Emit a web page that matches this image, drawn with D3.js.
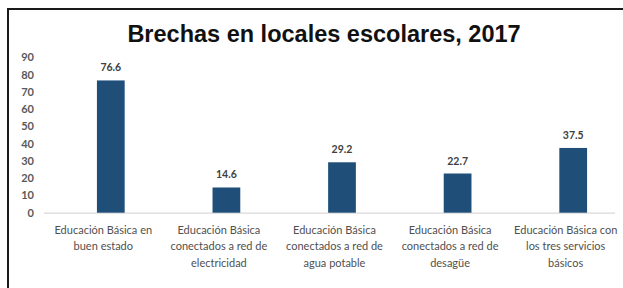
<!DOCTYPE html>
<html>
<head>
<meta charset="utf-8">
<script src="https://cdn.jsdelivr.net/npm/d3@7"></script>
<style>
	body { margin: 0; background: white; }
	svg { display: block; }
</style>
</head>
<body>
<svg id="chart" width="623" height="288"></svg>
<script>
const categories = [
	['Educación Básica en', 'buen estado'],
	['Educación Básica', 'conectados a red de', 'electricidad'],
	['Educación Básica', 'conectados a red de', 'agua potable'],
	['Educación Básica', 'conectados a red de', 'desagüe'],
	['Educación Básica con', 'los tres servicios', 'básicos'],
];
const values = [76.6, 14.6, 29.2, 22.7, 37.5];
const yTicks = [0, 10, 20, 30, 40, 50, 60, 70, 80, 90];
const title = 'Brechas en locales escolares, 2017';

const svg = d3.select('#chart');
const baseY = 212.7;
const topY = 57.3;

// frame around the chart (runs off the right and bottom edges)
svg.append('rect')
	.attr('x', 8)
	.attr('y', 9)
	.attr('width', 640)
	.attr('height', 300)
	.attr('fill', 'white')
	.attr('stroke', '#1a1a1a')
	.attr('stroke-width', 2);

svg.append('text')
	.attr('x', 324)
	.attr('y', 42)
	.attr('text-anchor', 'middle')
	.attr('font-family', 'Liberation Sans, Arial, sans-serif')
	.attr('font-weight', 'bold')
	.attr('font-size', 23.5)
	.attr('fill', '#111')
	.text(title);

const x = d3.scaleBand()
	.domain(d3.range(values.length))
	.range([53, 631])
	.paddingInner(0.76)
	.paddingOuter(0.38);

const y = d3.scaleLinear()
	.domain([0, 90])
	.range([baseY, topY]);

// y tick labels only, no axis line
const yAxis = svg.append('g')
	.attr('transform', 'translate(34,0)')
	.call(d3.axisLeft(y).tickValues(yTicks).tickSize(0).tickPadding(0));
yAxis.select('.domain').remove();
yAxis.selectAll('text')
	.attr('font-family', 'Lato, sans-serif')
	.attr('font-size', 11)
	.attr('font-weight', 'bold')
	.attr('fill', '#595959');

// baseline
svg.append('line')
	.attr('x1', 44)
	.attr('x2', 615)
	.attr('y1', baseY + 0.5)
	.attr('y2', baseY + 0.5)
	.attr('stroke', '#d9d9d9')
	.attr('stroke-width', 1.2);

svg.selectAll('rect.bar').data(values).enter().append('rect')
	.attr('class', 'bar')
	.attr('x', (d, i) => x(i))
	.attr('y', (d) => y(d))
	.attr('width', x.bandwidth())
	.attr('height', (d) => y(0) - y(d))
	.attr('fill', '#1f4e79');

svg.selectAll('text.value').data(values).enter().append('text')
	.attr('class', 'value')
	.attr('x', (d, i) => x(i) + x.bandwidth() / 2)
	.attr('y', (d) => y(d) - 9)
	.attr('text-anchor', 'middle')
	.attr('font-family', 'Lato, sans-serif')
	.attr('font-size', 10.5)
	.attr('font-weight', 'bold')
	.attr('fill', '#404040')
	.text((d) => d.toFixed(1));

const catLabels = svg.selectAll('text.cat').data(categories).enter().append('text')
	.attr('class', 'cat')
	.attr('x', (d, i) => x(i) + x.bandwidth() / 2 - 7.5)
	.attr('y', 233.5)
	.attr('text-anchor', 'middle')
	.attr('font-family', 'Lato, sans-serif')
	.attr('font-size', 11)
	.attr('fill', '#505050');
catLabels.each(function (lines) {
	const t = d3.select(this);
	lines.forEach((line, j) => {
		t.append('tspan')
			.attr('x', t.attr('x'))
			.attr('dy', j === 0 ? 0 : 16.5)
			.text(line);
	});
});
</script>
</body>
</html>
